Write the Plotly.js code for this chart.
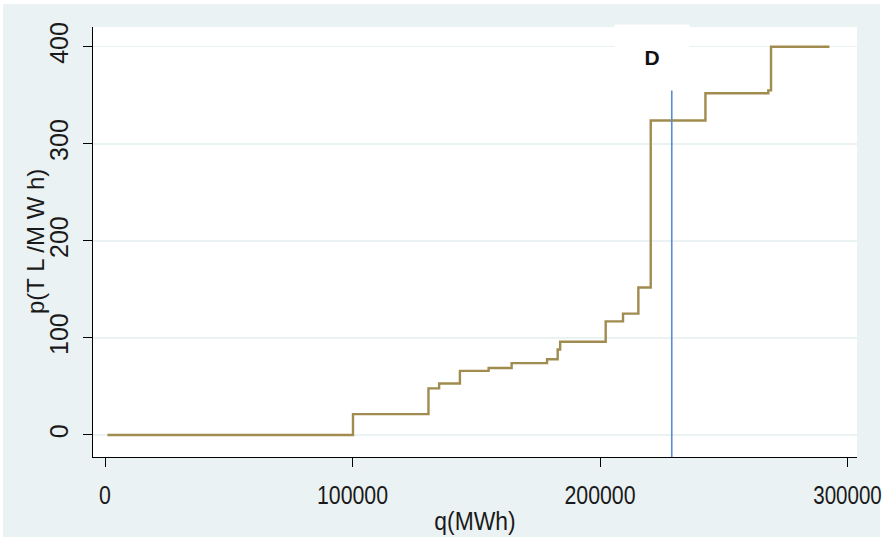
<!DOCTYPE html>
<html>
<head>
<meta charset="utf-8">
<script src="https://cdn.plot.ly/plotly-3.0.1.min.js"></script>
<style>
  html, body { margin: 0; padding: 0; background: #ffffff; }
  #chart {
    position: absolute; left: 0; top: 0; width: 886px; height: 542px;
    background: linear-gradient(#EAF2F3, #EAF2F3) no-repeat 3px 4px / 877px 533px, #ffffff;
  }
</style>
</head>
<body>
<div id="chart"></div>
<script>
// Supply curve steps (q in MWh, price in TL/MWh)
const supplyQ = [1000, 100200, 130700, 135000, 143400, 155000, 164300, 178600, 182900, 183900, 202300, 209300, 215500, 220500, 242600, 268000, 269100, 292700];
const supplyP = [0, 21.5, 48, 53, 66, 69, 74, 78, 88, 96, 117, 125, 152, 324, 352, 355, 400, 400];

// Demand (vertical line)
const demandQ = 229000;
const demandTop = 355;
const demandLabel = "D";

// Axes
const xTicks = [0, 100000, 200000, 300000];
const xTickLabels = ["0", "100000", "200000", "300000"];
const yTicks = [0, 100, 200, 300, 400];
const yTickLabels = ["0", "100", "200", "300", "400"];
const xRange = [-4850, 303840];
const yRange = [-22.7, 420.3];
const xTitle = "q(MWh)";
const yTitle = "p(T L /M W h)";

const sans = "Liberation Sans, Arial, sans-serif";

const traces = [
  {
    x: supplyQ, y: supplyP, type: "scatter", mode: "lines",
    line: { shape: "hv", color: "#A08C4E", width: 2.4 },
    hoverinfo: "skip", showlegend: false
  },
  {
    x: [demandQ, demandQ], y: [yRange[0], demandTop], type: "scatter", mode: "lines",
    line: { color: "#5B8BD0", width: 1.6 },
    hoverinfo: "skip", showlegend: false
  }
];

const layout = {
  width: 886, height: 542,
  margin: { l: 93, r: 29, t: 27, b: 85, pad: 0 },
  paper_bgcolor: "rgba(0,0,0,0)",
  plot_bgcolor: "#FFFFFF",
  showlegend: false,
  xaxis: {
    range: xRange, tickmode: "array", tickvals: xTicks, ticktext: xTickLabels,
    showgrid: false, zeroline: false,
    showline: true, linecolor: "#000000", linewidth: 1,
    ticks: "outside", ticklen: 9, tickcolor: "#000000", tickwidth: 1,
    ticklabelstandoff: 6, ticklabeloverflow: "allow",
    tickfont: { family: sans, size: 26, color: "#1a1a1a" },
    title: { text: xTitle, font: { family: sans, size: 26, color: "#1a1a1a" }, standoff: 2 }
  },
  yaxis: {
    range: yRange, tickmode: "array", tickvals: yTicks, ticktext: yTickLabels,
    tickangle: -90,
    showgrid: true, gridcolor: "#EAF2F3", gridwidth: 1.5, zeroline: false,
    showline: true, linecolor: "#000000", linewidth: 1,
    ticks: "outside", ticklen: 9, tickcolor: "#000000", tickwidth: 1,
    ticklabelstandoff: 5, ticklabeloverflow: "allow",
    tickfont: { family: sans, size: 25, color: "#1a1a1a" }
  },
  annotations: [
    {
      x: 221000, y: 389, xref: "x", yref: "y",
      text: "<b>" + demandLabel + "</b>", showarrow: false,
      font: { family: sans, size: 21, color: "#111111" },
      bgcolor: "#FFFFFF", width: 74, height: 64, borderpad: 0
    },
    {
      x: 0, y: 0.5, xref: "paper", yref: "paper",
      xanchor: "center", yanchor: "middle", xshift: -58,
      text: yTitle, textangle: -90, showarrow: false,
      font: { family: sans, size: 24, color: "#1a1a1a" }
    }
  ]
};

function squishEl(el, factor) {
  const L = el.getComputedTextLength();
  if (L > 0) {
    el.setAttribute("textLength", (L * factor).toFixed(2));
    el.setAttribute("lengthAdjust", "spacingAndGlyphs");
  }
}

Plotly.newPlot("chart", traces, layout, { staticPlot: true, displayModeBar: false }).then(function () {
  const xt = Array.from(document.querySelectorAll("#chart .xtick text"));
  xt.forEach(function (el, i) { squishEl(el, i === xt.length - 1 ? 0.79 : 0.82); });
  document.querySelectorAll("#chart .g-xtitle text").forEach(function (el) { squishEl(el, 0.88); });
});
</script>
</body>
</html>
